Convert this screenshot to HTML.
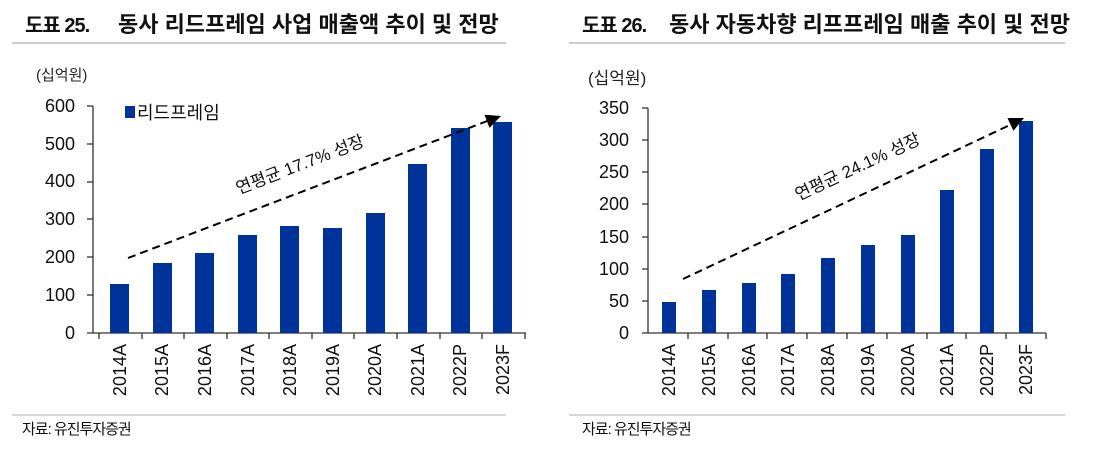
<!DOCTYPE html>
<html><head><meta charset="utf-8"><style>
body{margin:0;background:#fff;}
svg{display:block;font-family:"Liberation Sans","Noto Sans CJK KR",sans-serif;}
</style></head><body>
<svg width="1120" height="456" xmlns="http://www.w3.org/2000/svg">
<!-- Left chart -->
<text x="25" y="32" font-size="20" font-weight="bold" fill="#111" letter-spacing="-1">도표 25.</text>
<text x="118" y="32" font-size="22" font-weight="bold" fill="#111">동사 리드프레임 사업 매출액 추이 및 전망</text>
<line x1="12" y1="43" x2="506" y2="43" stroke="#ccc" stroke-width="2"/>
<text x="36" y="80" font-size="15" fill="#222">(십억원)</text>
<g font-size="18" fill="#111" text-anchor="end">
<text x="75" y="339">0</text><text x="75" y="301">100</text><text x="75" y="263">200</text><text x="75" y="225">300</text><text x="75" y="187">400</text><text x="75" y="150">500</text><text x="75" y="112">600</text>
</g>
<g stroke="#333" stroke-width="1.3">
<line x1="93" y1="106" x2="93" y2="333"/>
<line x1="87" y1="106" x2="93" y2="106"/><line x1="87" y1="144" x2="93" y2="144"/><line x1="87" y1="182" x2="93" y2="182"/><line x1="87" y1="219" x2="93" y2="219"/><line x1="87" y1="257" x2="93" y2="257"/><line x1="87" y1="295" x2="93" y2="295"/>
<line x1="87" y1="333" x2="526" y2="333"/>
</g>
<g fill="#00339A">
<rect x="110" y="284" width="19" height="49"/><rect x="153" y="263" width="19" height="70"/><rect x="195" y="253" width="19" height="80"/><rect x="238" y="235" width="19" height="98"/><rect x="280" y="226" width="19" height="107"/><rect x="323" y="228" width="19" height="105"/><rect x="366" y="213" width="19" height="120"/><rect x="408" y="164" width="19" height="169"/><rect x="451" y="128" width="19" height="205"/><rect x="493" y="122" width="19" height="211"/>
</g>
<g stroke="#333" stroke-width="1.3">
<line x1="99" y1="333" x2="99" y2="339"/><line x1="142" y1="333" x2="142" y2="339"/><line x1="184" y1="333" x2="184" y2="339"/><line x1="227" y1="333" x2="227" y2="339"/><line x1="269" y1="333" x2="269" y2="339"/><line x1="312" y1="333" x2="312" y2="339"/><line x1="354" y1="333" x2="354" y2="339"/><line x1="397" y1="333" x2="397" y2="339"/><line x1="440" y1="333" x2="440" y2="339"/><line x1="482" y1="333" x2="482" y2="339"/><line x1="525" y1="333" x2="525" y2="339"/>
</g>
<g font-size="18" fill="#111" text-anchor="end">
<text transform="translate(126,344) rotate(-90)">2014A</text><text transform="translate(168,344) rotate(-90)">2015A</text><text transform="translate(211,344) rotate(-90)">2016A</text><text transform="translate(254,344) rotate(-90)">2017A</text><text transform="translate(296,344) rotate(-90)">2018A</text><text transform="translate(339,344) rotate(-90)">2019A</text><text transform="translate(381,344) rotate(-90)">2020A</text><text transform="translate(424,344) rotate(-90)">2021A</text><text transform="translate(466,344) rotate(-90)">2022P</text><text transform="translate(509,344) rotate(-90)">2023F</text>
</g>
<rect x="125" y="106" width="10" height="12" fill="#00339A"/>
<text x="137" y="119" font-size="18" fill="#111">리드프레임</text>
<line x1="128" y1="258" x2="490" y2="120" stroke="#000" stroke-width="2" stroke-dasharray="8,5"/>
<path d="M0,0 L-15,-7 L-15,7 Z" fill="#000" transform="translate(501,116) rotate(-20.9)"/>
<text transform="translate(302,170) rotate(-21)" font-size="17" fill="#111" text-anchor="middle">연평균 17.7% 성장</text>
<line x1="12" y1="415" x2="506" y2="415" stroke="#ccc" stroke-width="1.5"/>
<text x="22" y="434" font-size="15" fill="#111" letter-spacing="-1">자료: 유진투자증권</text>

<!-- Right chart -->
<text x="582" y="32" font-size="20" font-weight="bold" fill="#111" letter-spacing="-1">도표 26.</text>
<text x="669" y="32" font-size="22" font-weight="bold" fill="#111">동사 자동차향 리프프레임 매출 추이 및 전망</text>
<line x1="569" y1="43" x2="1065" y2="43" stroke="#ccc" stroke-width="2"/>
<text x="588" y="84" font-size="17" fill="#222">(십억원)</text>
<g font-size="18" fill="#111" text-anchor="end">
<text x="629" y="339">0</text><text x="629" y="307">50</text><text x="629" y="275">100</text><text x="629" y="243">150</text><text x="629" y="210">200</text><text x="629" y="178">250</text><text x="629" y="146">300</text><text x="629" y="114">350</text>
</g>
<g stroke="#333" stroke-width="1.3">
<line x1="648" y1="108" x2="648" y2="333"/>
<line x1="642" y1="108" x2="648" y2="108"/><line x1="642" y1="140" x2="648" y2="140"/><line x1="642" y1="172" x2="648" y2="172"/><line x1="642" y1="204" x2="648" y2="204"/><line x1="642" y1="237" x2="648" y2="237"/><line x1="642" y1="269" x2="648" y2="269"/><line x1="642" y1="301" x2="648" y2="301"/>
<line x1="642" y1="333" x2="1046" y2="333"/>
</g>
<g fill="#00339A">
<rect x="662" y="302" width="14" height="31"/><rect x="702" y="290" width="14" height="43"/><rect x="742" y="283" width="14" height="50"/><rect x="781" y="274" width="14" height="59"/><rect x="821" y="258" width="14" height="75"/><rect x="861" y="245" width="14" height="88"/><rect x="901" y="235" width="14" height="98"/><rect x="940" y="190" width="14" height="143"/><rect x="980" y="149" width="14" height="184"/><rect x="1019" y="121" width="14" height="212"/>
</g>
<g stroke="#333" stroke-width="1.3">
<line x1="688" y1="333" x2="688" y2="339"/><line x1="728" y1="333" x2="728" y2="339"/><line x1="767" y1="333" x2="767" y2="339"/><line x1="807" y1="333" x2="807" y2="339"/><line x1="847" y1="333" x2="847" y2="339"/><line x1="887" y1="333" x2="887" y2="339"/><line x1="927" y1="333" x2="927" y2="339"/><line x1="966" y1="333" x2="966" y2="339"/><line x1="1006" y1="333" x2="1006" y2="339"/><line x1="1046" y1="333" x2="1046" y2="339"/>
</g>
<g font-size="18" fill="#111" text-anchor="end">
<text transform="translate(675,344) rotate(-90)">2014A</text><text transform="translate(715,344) rotate(-90)">2015A</text><text transform="translate(755,344) rotate(-90)">2016A</text><text transform="translate(794,344) rotate(-90)">2017A</text><text transform="translate(834,344) rotate(-90)">2018A</text><text transform="translate(874,344) rotate(-90)">2019A</text><text transform="translate(914,344) rotate(-90)">2020A</text><text transform="translate(953,344) rotate(-90)">2021A</text><text transform="translate(993,344) rotate(-90)">2022P</text><text transform="translate(1032,344) rotate(-90)">2023F</text>
</g>
<line x1="683" y1="279" x2="1012" y2="124" stroke="#000" stroke-width="2" stroke-dasharray="8,5"/>
<path d="M0,0 L-15,-7 L-15,7 Z" fill="#000" transform="translate(1024,118) rotate(-25.3)"/>
<text transform="translate(860,172) rotate(-25)" font-size="17" fill="#111" text-anchor="middle">연평균 24.1% 성장</text>
<line x1="569" y1="415" x2="1065" y2="415" stroke="#ccc" stroke-width="1.5"/>
<text x="582" y="434" font-size="15" fill="#111" letter-spacing="-1">자료: 유진투자증권</text>
</svg>
</body></html>
